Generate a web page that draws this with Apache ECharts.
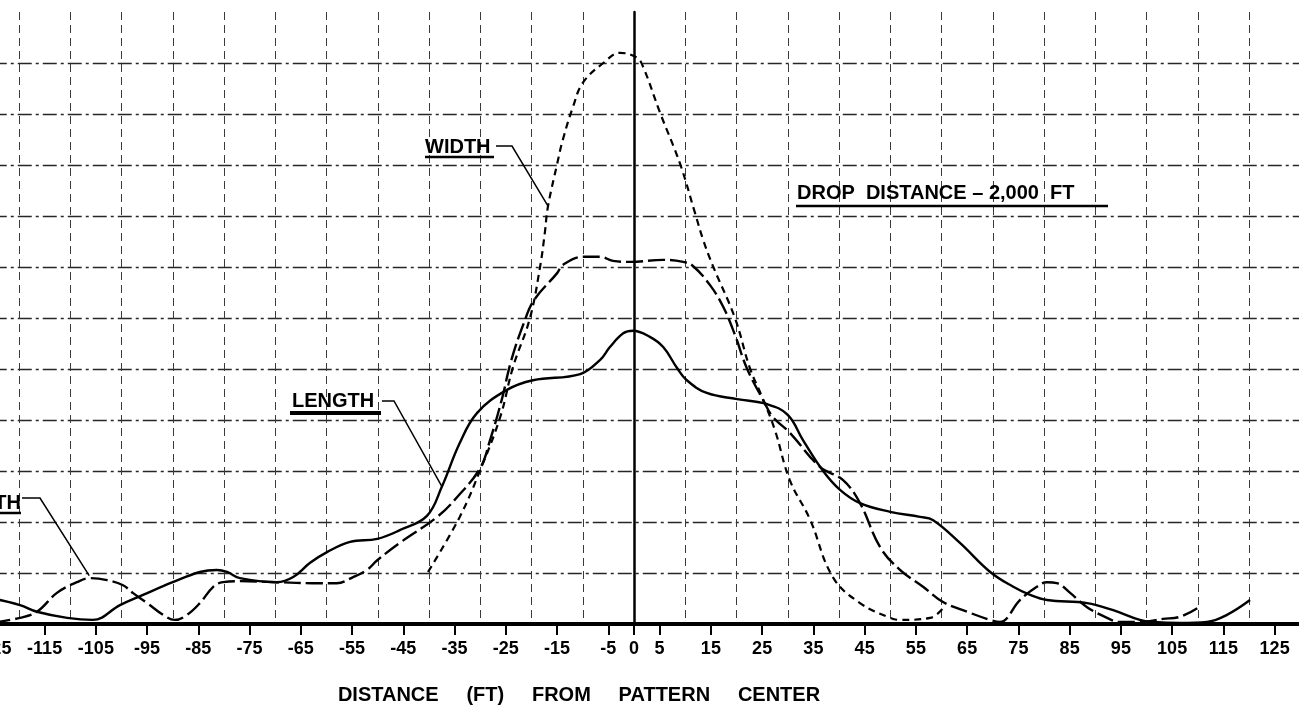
<!DOCTYPE html>
<html><head><meta charset="utf-8">
<script src="https://cdn.jsdelivr.net/npm/echarts@6/dist/echarts.min.js"></script>
<style>
html,body{margin:0;padding:0;overflow:hidden;background:#fff;width:1299px;height:711px}
#c{position:absolute;left:-40px;top:0;width:1350px;height:711px}
</style></head>
<body><div id="c"></div>
<script>
// ---- data (distance in ft, value in chart units) ----
const xTickLabels = [-125,-115,-105,-95,-85,-75,-65,-55,-45,-35,-25,-15,-5,0,5,15,25,35,45,55,65,75,85,95,105,115,125];

const lengthFt  = [-125,-119.8,-116.5,-110.6,-105.6,-100.3,-95.8,-90,-84.7,-81.4,-79.4,-76.9,-69.7,-66.5,-63.2,-59.9,-55.4,-50.1,-45.7,-40.4,-37.5,-34,-30.6,-24.8,-19.7,-10.5,-6.6,-4.7,-2.1,-0.2,3.1,5.7,8.4,10.3,14.2,20.1,26,30,33,36.9,40.2,44.1,50,55.8,58.3,63.6,69.5,74,77.3,80.6,88.4,93.5,98.7,101.3,106.5,111.8,115.7,120.2];
const lengthVal = [0.5,0.37,0.24,0.12,0.08,0.37,0.57,0.82,1.02,1.06,1.02,0.9,0.82,0.92,1.2,1.41,1.61,1.67,1.84,2.12,2.69,3.55,4.14,4.59,4.78,4.9,5.18,5.43,5.7,5.75,5.63,5.43,5.02,4.78,4.53,4.41,4.31,4.1,3.6,3.0,2.63,2.37,2.2,2.1,2.04,1.59,1.02,0.73,0.57,0.47,0.41,0.27,0.08,0.04,0.02,0.04,0.18,0.47];

const widthFt  = [-40.2,-34,-30,-26.1,-23.6,-20.3,-18.3,-17.4,-16.8,-15,-13.9,-11.9,-10,-6,-2.7,0.6,1.8,5.1,9,11.9,13.5,15.4,19.7,22.6,25,27.5,30.4,34.3,38.8,44.1,50,52,57.8,60.3];
const widthVal = [1.02,2.1,3.02,4.06,5.04,6.0,7.02,7.67,8.18,9.02,9.49,10.14,10.61,11.0,11.2,11.1,10.92,10.02,9.02,8.06,7.53,7.02,6.0,5.02,4.45,3.8,2.82,2.06,0.92,0.41,0.12,0.08,0.12,0.31];

const thirdFt  = [-125,-119.8,-116.5,-112.6,-108.7,-106.1,-102.8,-99.7,-97.8,-95,-91.9,-89.6,-87.2,-84.7,-82.1,-80.2,-76.9,-69.7,-62.8,-58,-54.8,-52.1,-50.1,-45.7,-38.4,-34.5,-30,-28.1,-25.8,-24,-21.5,-19.5,-15,-13.9,-10,-6.6,-4.1,-0.6,5.7,9.6,11.5,14.8,17.4,19.7,22,25.2,27.1,30.4,36.3,40.8,44.1,48,51.9,56.4,60.3,65,69.5,71.4,75.3,78.6,80.6,82.5,85.1,88.4,92.3,94.8,98.7,103.2,106.5,109.9];
const thirdVal = [0.03,0.12,0.24,0.61,0.82,0.9,0.86,0.76,0.61,0.41,0.18,0.08,0.18,0.41,0.73,0.82,0.84,0.82,0.8,0.8,0.92,1.06,1.25,1.59,2.1,2.49,3.06,3.6,4.4,5.15,5.9,6.35,6.88,7.04,7.2,7.2,7.12,7.1,7.14,7.1,7.02,6.65,6.22,5.67,5.02,4.39,4.06,3.75,3.08,2.82,2.37,1.51,1.06,0.73,0.43,0.24,0.08,0.04,0.47,0.73,0.82,0.8,0.61,0.33,0.12,0.04,0.04,0.1,0.14,0.31];

// ---- chart ----
const OFF = 40; // page -> canvas x offset (container is shifted left)
const FONT = '"Liberation Sans", Arial, sans-serif';
const pair = (xs, ys) => xs.map((x, i) => [x, ys[i]]);
const yColors = [];
for (let i = 0; i <= 12; i++) yColors.push(i === 12 ? 'rgba(0,0,0,0)' : '#262626');

const chart = echarts.init(document.getElementById('c'), null, {renderer: 'canvas'});
const baseLine = {type: 'line', showSymbol: false, smooth: 0.4, z: 5};

chart.setOption({
  animation: false,
  backgroundColor: '#fff',
  grid: {left: 7.75, width: 1332.5, top: 12, height: 612, containLabel: false, outerBoundsMode: 'none'},
  xAxis: [{
    type: 'value', min: -130, max: 130, interval: 10, position: 'bottom',
    axisLine: {show: true, onZero: false, lineStyle: {color: '#000', width: 4}},
    axisTick: {show: true, customValues: xTickLabels, length: 11, lineStyle: {color: '#000', width: 2}},
    axisLabel: {show: true, customValues: xTickLabels, margin: 16, color: '#000',
      fontFamily: FONT, fontWeight: 'bold', fontSize: 18, formatter: v => String(v)},
    splitLine: {show: false}
  }, {
    // grid-only axis: vertical rulings every 10 ft
    type: 'value', min: -130, max: 130, interval: 10, position: 'top',
    axisLine: {show: false}, axisTick: {show: false}, axisLabel: {show: false},
    splitLine: {show: true, lineStyle: {color: '#3a3a3a', width: 1, type: [8, 5]}}
  }],
  yAxis: {
    type: 'value', min: 0, max: 12, interval: 1,
    axisLine: {show: true, onZero: true, onZeroAxisIndex: 0, lineStyle: {color: '#000', width: 2.5}},
    axisTick: {show: false}, axisLabel: {show: false},
    splitLine: {show: true, lineStyle: {color: yColors, width: 1.3, type: [14, 4, 3, 4]}}
  },
  series: [
    Object.assign({}, baseLine, {name: 'LENGTH', data: pair(lengthFt, lengthVal),
      lineStyle: {color: '#000', width: 2.4, type: 'solid'}}),
    Object.assign({}, baseLine, {name: 'WIDTH', data: pair(widthFt, widthVal),
      lineStyle: {color: '#000', width: 2.2, type: [7, 5]}}),
    Object.assign({}, baseLine, {name: 'THIRD', data: pair(thirdFt, thirdVal),
      lineStyle: {color: '#000', width: 2.4, type: [17, 5]}})
  ]
});

// ---- annotations (labels with leader lines) ----
const px = (ft, v) => chart.convertToPixel({gridIndex: 0}, [ft, v]);
const P = (x, y) => [x + OFF, y];
function txt(text, x, y, size, align) {
  return {type: 'text', x: x + OFF, y: y, z: 20,
    style: {text: text, font: 'bold ' + size + 'px ' + FONT, fill: '#000',
      align: align || 'left', verticalAlign: 'middle', textAlign: align || 'left', textVerticalAlign: 'middle'}};
}
function ln(points, w) {
  return {type: 'polyline', z: 20, shape: {points: points}, style: {stroke: '#000', lineWidth: w || 1.5, fill: null}};
}
const g = [
  txt('WIDTH', 425, 147, 20),
  ln([P(425, 157), P(494, 157)], 2.5),
  ln([P(496, 146), P(512, 146), px(-16.8, 8.2)], 1.5),

  txt('LENGTH', 292, 401, 20),
  ln([P(290, 413), P(381, 413)], 4),
  ln([P(382, 401), P(394, 401), px(-37.5, 2.7)], 1.5),

  txt('TH', 21, 503, 20, 'right'),
  ln([P(-10, 513), P(21, 513)], 2.5),
  ln([P(22, 498), P(40, 498), px(-106.3, 0.95)], 1.5),

  txt('DROP  DISTANCE \u2013 2,000  FT', 797, 193, 20),
  ln([P(796, 206), P(1108, 206)], 2.5),

  txt('DISTANCE     (FT)     FROM     PATTERN     CENTER', 579, 695, 20, 'center')
];
chart.setOption({graphic: g});
</script>
</body></html>
